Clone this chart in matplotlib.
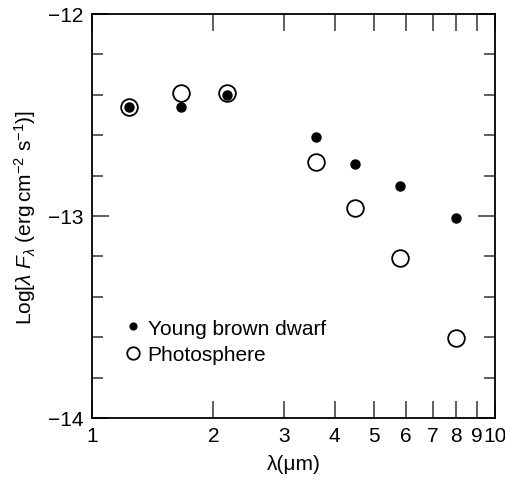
import numpy as np
import matplotlib
matplotlib.use("Agg")
import matplotlib.pyplot as plt
from matplotlib.ticker import FixedLocator, NullFormatter, FixedFormatter

plt.rcParams["font.family"] = ["Liberation Sans", "DejaVu Sans"]
plt.rcParams["mathtext.fontset"] = "custom"
plt.rcParams["mathtext.rm"] = "Liberation Sans"
plt.rcParams["mathtext.it"] = "Liberation Sans:italic"

# wavelengths (micron) and log(lambda F_lambda)
wavelength = [1.235, 1.66, 2.16, 3.6, 4.5, 5.8, 8.0]
brown_dwarf = [-12.46, -12.46, -12.40, -12.61, -12.745, -12.85, -13.01]
photosphere = [-12.46, -12.39, -12.39, -12.735, -12.96, -13.21, -13.605]

xticks = [1, 2, 3, 4, 5, 6, 7, 8, 9, 10]
xtick_labels = ["1", "2", "3", "4", "5", "6", "7", "8", "9", "10"]

fig = plt.figure(figsize=(5.06, 4.81), dpi=100)
ax = fig.add_axes([92 / 506, 1 - 419 / 481, 403 / 506, 404 / 481])

ax.plot(wavelength, brown_dwarf, "o", color="black", markersize=6.5,
        linestyle="none", label="Young brown dwarf", zorder=3)
ax.plot(wavelength, photosphere, "o", markerfacecolor="none",
        markeredgecolor="black", markersize=12, markeredgewidth=1.3,
        linestyle="none", label="Photosphere", zorder=2)

ax.set_xscale("log")
ax.set_xlim(1, 10)
ax.set_ylim(-14, -12)
ax.xaxis.set_major_locator(FixedLocator(xticks))
ax.xaxis.set_major_formatter(FixedFormatter(xtick_labels))
ax.xaxis.set_minor_locator(FixedLocator([]))
ax.xaxis.set_minor_formatter(NullFormatter())
ax.set_yticks([-14, -13, -12])
ax.set_yticklabels(["\u221214", "\u221213", "\u221212"])
ax.set_yticks(np.arange(-14, -12, 0.2), minor=True)

ax.tick_params(which="both", direction="in", top=True, right=True,
               labelsize=15, width=1.1, pad=6, color="#333333")
ax.tick_params(which="major", length=12)
ax.tick_params(which="minor", length=8)
for s in ax.spines.values():
    s.set_linewidth(1.3)

ax.set_xlabel("\u03bb(\u03bcm)", fontsize=15, labelpad=6)
ax.set_ylabel(r"Log[$\lambda$ $F_{\lambda}$ (erg$\,$cm$^{-2}$ s$^{-1}$)]",
              fontsize=15, labelpad=7)

ax.legend(loc="lower left", bbox_to_anchor=(0.05, 0.108), frameon=False,
          fontsize=15, handletextpad=0.2, labelspacing=0.35,
          borderpad=0, handlelength=1.0, markerscale=0.75)

fig.savefig("out.png", dpi=100)
